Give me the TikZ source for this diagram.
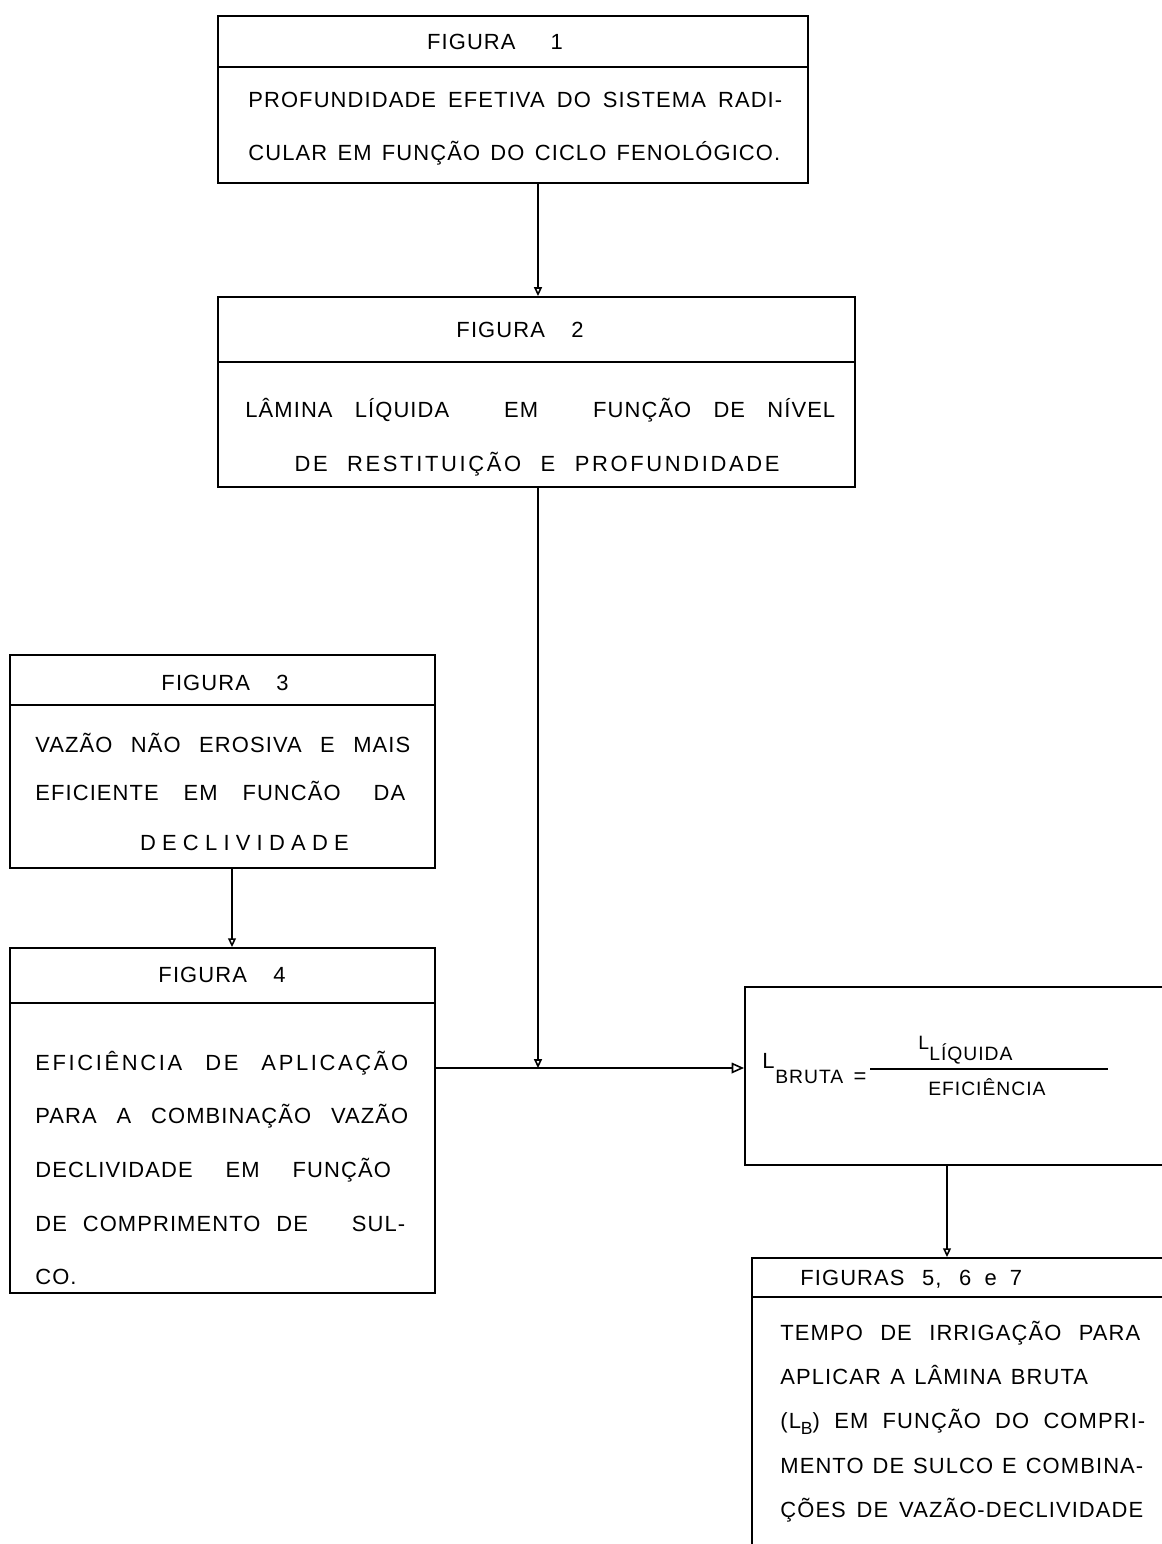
\documentclass[tikz,border=0pt]{standalone}
\usepackage{fontspec}
\setmainfont{Liberation Sans}
\newfontfamily\tw{Liberation Sans}[LetterSpace=5,WordSpace=1.3]
\newfontfamily\twwide{Liberation Sans}[LetterSpace=12,WordSpace=1.3]
\usetikzlibrary{arrows.meta,fit}
\newcommand\jline[2]{\makebox[#1][s]{#2}}
\begin{document}
\begin{tikzpicture}[x=0.02cm,y=-0.02cm,
  box/.style={draw,line width=1.1pt,inner sep=0pt},
  tx/.style={inner sep=0pt,font=\tw\fontsize{12.5}{15}\selectfont,text height=9pt,text depth=0pt},
  sm/.style={inner sep=0pt,font=\tw\fontsize{11}{13}\selectfont,text height=7.9pt,text depth=0pt},
  arr/.style={line width=0.9pt,-{Triangle[open,length=5pt,width=4.5pt]}},
  bigarr/.style={line width=0.9pt,-{Triangle[open,length=7pt,width=6pt]}},
  divider/.style={line width=1pt}]
\useasboundingbox (0,0) rectangle (1162,1544);
\clip (0,0) rectangle (1162,1544);

% boxes
\node[box,fit={(218,16)(808,183)}] (b1) {};
\node[box,fit={(218,297)(855,487)}] (b2) {};
\node[box,fit={(10,655)(435,868)}] (b3) {};
\node[box,fit={(10,948)(435,1293)}] (b4) {};
\node[box,fit={(745,987)(1200,1165)}] (b5) {};
\node[box,fit={(752,1258)(1200,1600)}] (b6) {};

% dividers
\draw[divider] (b1.west |- 0,67) -- (b1.east |- 0,67);
\draw[divider] (b2.west |- 0,362) -- (b2.east |- 0,362);
\draw[divider] (b3.west |- 0,705) -- (b3.east |- 0,705);
\draw[divider] (b4.west |- 0,1003) -- (b4.east |- 0,1003);
\draw[divider] (b6.west |- 0,1297) -- (b6.east |- 0,1297);

% box 1
\node[tx] (h1) at (495,42) {FIGURA\hspace{1.6em}1};
\node[tx,anchor=west] (t1a) at (248,100) {\jline{10.68cm}{PROFUNDIDADE EFETIVA DO SISTEMA RADI-}};
\node[tx,anchor=west] (t1b) at (248,153) {\jline{10.64cm}{CULAR EM FUNÇÃO DO CICLO FENOLÓGICO.}};

% box 2
\node[tx] (h2) at (520,330) {FIGURA\hspace{1.2em}2};
\node[tx,anchor=west] (t2a) at (245,410) {\jline{11.8cm}{LÂMINA LÍQUIDA\hspace{2.5em}EM\hspace{2.5em}FUNÇÃO DE NÍVEL}};
\node[tx] (t2b) at (537,464) {\twwide\jline{9.7cm}{DE RESTITUIÇÃO E PROFUNDIDADE}};

% box 3
\node[tx] (h3) at (225,683) {FIGURA\hspace{1.2em}3};
\node[tx,anchor=west] (t3a) at (35,745) {\jline{7.5cm}{VAZÃO NÃO EROSIVA E MAIS}};
\node[tx,anchor=west] (t3b) at (35,793) {\jline{7.4cm}{EFICIENTE EM FUNCÃO\hspace{1.5em}DA}};
\node[tx] (t3c) at (226,843) {\jline{3.44cm}{D E C L I V I D A D E}};

% box 4
\node[tx] (h4) at (222,975) {FIGURA\hspace{1.2em}4};
\node[tx,anchor=west] (t4a) at (35,1063) {\twwide\jline{7.46cm}{EFICIÊNCIA DE APLICAÇÃO}};
\node[tx,anchor=west] (t4b) at (35,1116) {\jline{7.46cm}{PARA A COMBINAÇÃO VAZÃO}};
\node[tx,anchor=west] (t4c) at (35,1170) {\jline{7.46cm}{DECLIVIDADE\hspace{1.5em}EM\hspace{1.5em}FUNÇÃO}};
\node[tx,anchor=west] (t4d) at (35,1224) {\jline{7.4cm}{DE COMPRIMENTO DE\hspace{2em}SUL-}};
\node[tx,anchor=west] (t4e) at (35,1277) {CO.};

% box 5 formula
\node[tx,anchor=west] (lb) at (762,1061) {L};
\node[sm,anchor=west] (lbs) at (775,1077) {BRUTA};
\node[tx] (eq) at (860,1076) {=};
\draw[line width=1pt] (870,1069) -- (1108,1069);
\node[sm,anchor=west] (ln) at (918,1043) {L};
\node[sm,anchor=west] (lns) at (929,1054) {LÍQUIDA};
\node[sm,anchor=west] (ef) at (928,1089) {EFICIÊNCIA};

% box 6
\node[tx,anchor=west] (h6) at (800,1278) {FIGURAS\hspace{0.8em}5,\hspace{0.8em}6\hspace{0.6em}e\hspace{0.6em}7};
\node[tx,anchor=west] (t6a) at (780,1333) {\jline{7.2cm}{TEMPO DE IRRIGAÇÃO PARA}};
\node[tx,anchor=west] (t6b) at (780,1377) {APLICAR A LÂMINA BRUTA};
\node[tx,anchor=west] (t6c) at (780,1421) {\jline{7.3cm}{(L\raisebox{-0.45ex}{\fontsize{10}{11}\selectfont B}) EM FUNÇÃO DO COMPRI-}};
\node[tx,anchor=west] (t6d) at (780,1466) {\jline{7.26cm}{MENTO DE SULCO E COMBINA-}};
\node[tx,anchor=west] (t6e) at (780,1510) {\jline{7.26cm}{ÇÕES DE VAZÃO-DECLIVIDADE}};

% connectors
\coordinate (x12) at (538,0);
\coordinate (x34) at (232,0);
\coordinate (x56) at (947,0);
\coordinate (jn) at (538,1068);
\draw[arr] (b1.south -| x12) -- (b2.north -| x12);
\draw[arr] (b3.south -| x34) -- (b4.north -| x34);
\draw[arr] (b2.south -| x12) -- (jn);
\draw[bigarr] (b4.east |- jn) -- (b5.west |- jn);
\draw[arr] (b5.south -| x56) -- (b6.north -| x56);
\end{tikzpicture}
\end{document}
